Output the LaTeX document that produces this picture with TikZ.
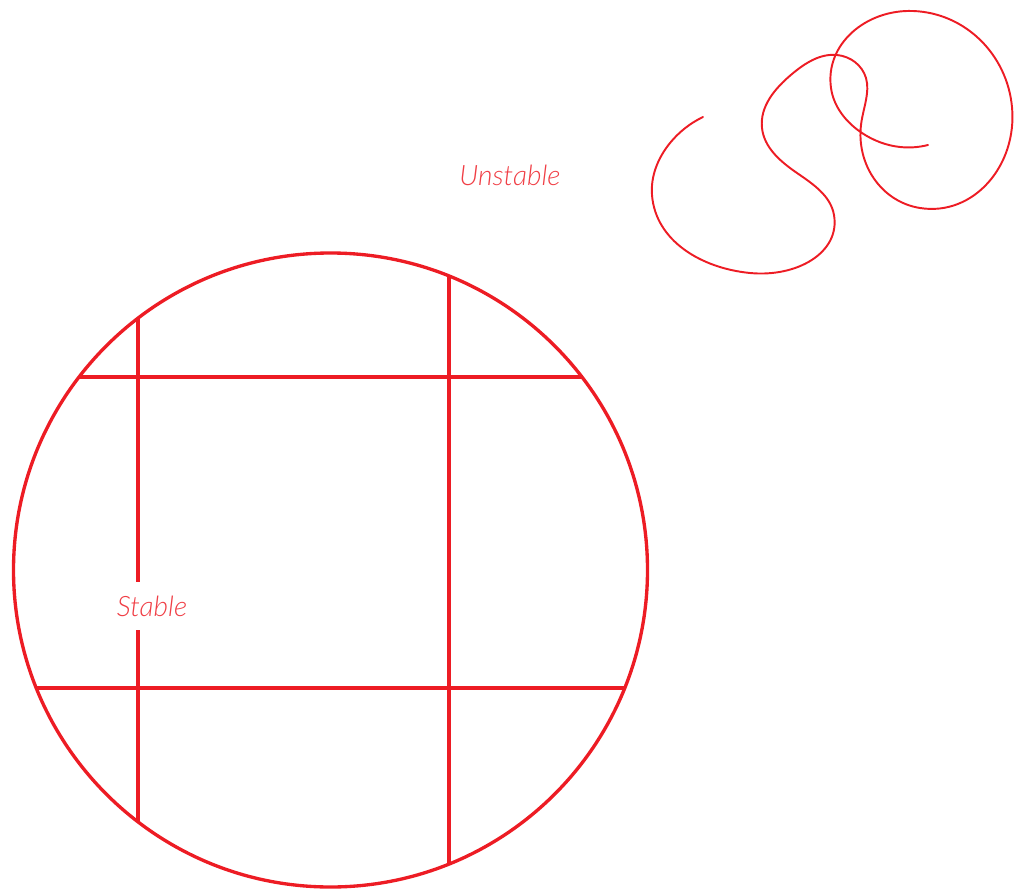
\documentclass[tikz,border=0pt]{standalone}
\usepackage{fontspec}
\usetikzlibrary{hobby}
\newfontfamily\latofont{Lato Light}
\definecolor{stabred}{HTML}{ED1C24}
\tikzset{
  ball/.style={draw=stabred,line width=1.9pt},
  knot/.style={draw=stabred,line width=1.1pt,line cap=round},
  tag/.style={text=stabred!85,font=\latofont\itshape\fontsize{16}{19}\selectfont}
}
\begin{document}
\begin{tikzpicture}[x=0.02cm,y=-0.02cm]
  \useasboundingbox (0,0) rectangle (1025,889);
  % stable ball with its grid
  \begin{scope}
    \clip (330.5,570) circle[radius=317];
    \draw[ball] (0,377) -- (700,377);
    \draw[ball] (0,688) -- (700,688);
    \draw[ball] (138,200) -- (138,900);
    \draw[ball] (449,200) -- (449,900);
  \end{scope}
  \draw[ball] (330.5,570) circle[radius=317];
  \node[tag,fill=white,inner xsep=1pt,minimum height=0.96cm] (stable) at (152,606) {Stable};
  % unstable tangle
  \node[tag] (unstable) at (510,175) {Unstable};
  \draw[knot,use Hobby shortcut] (703,117) .. (670,143) .. (652,195) .. (750,273) .. (834,215)
    .. (797,173) .. (762,128) .. (792,74) .. (837,55) .. (866,78) .. (866,100) .. (861,125)
    .. (920,208) .. (1012,107) .. (913,11) .. (831,88) .. (862,133) .. (900,147) .. (928,145);
\end{tikzpicture}
\end{document}
